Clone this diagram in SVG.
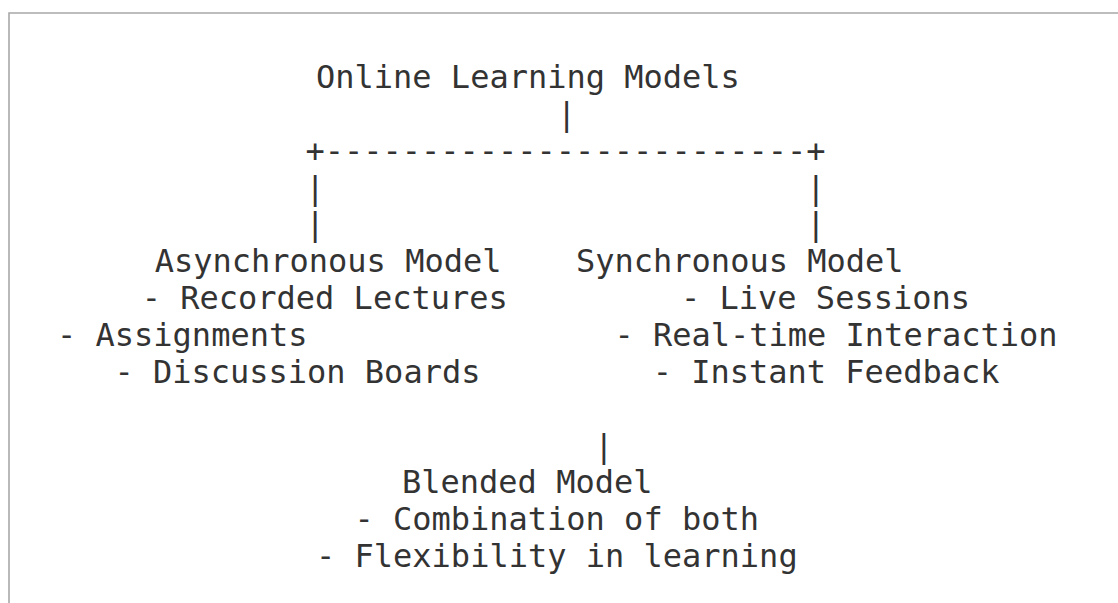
<svg xmlns="http://www.w3.org/2000/svg" width="1118" height="603" viewBox="0 0 1118 603">
  <style>
    text { font-family: "DejaVu Sans Mono", "Liberation Mono", monospace; font-size: 32px; fill: #333333; white-space: pre; }
    .mid { text-anchor: middle; }
    .frame { stroke: #a8a8a8; stroke-width: 1.6; fill: none; }
  </style>
  <rect x="0" y="0" width="1118" height="603" fill="#ffffff"/>
  <path class="frame" d="M9 603 V13 H1118"/>

  <g id="connectors">
    <text class="mid" x="566.7" y="124.9">|</text>
    <text x="305.4" y="161.7">+-------------------------+</text>
    <text x="305.4" y="198.6">|                         |</text>
    <text x="305.4" y="235.4">|                         |</text>
    <text class="mid" x="604" y="456.5">|</text>
  </g>

  <g id="root">
    <text x="316" y="88">Online Learning Models</text>
  </g>

  <g id="asynchronous">
    <text x="154.7" y="272.3">Asynchronous Model</text>
    <text x="141.7" y="309.1">- Recorded Lectures</text>
    <text x="57" y="346">- Assignments</text>
    <text x="114.4" y="382.8">- Discussion Boards</text>
  </g>

  <g id="synchronous">
    <text x="576" y="272.3">Synchronous Model</text>
    <text x="681" y="309.1">- Live Sessions</text>
    <text x="614.4" y="346">- Real-time Interaction</text>
    <text x="652.7" y="382.8">- Instant Feedback</text>
  </g>

  <g id="blended">
    <text x="402" y="493.4">Blended Model</text>
    <text x="354.4" y="530.2">- Combination of both</text>
    <text x="316" y="567.1">- Flexibility in learning</text>
  </g>
</svg>
